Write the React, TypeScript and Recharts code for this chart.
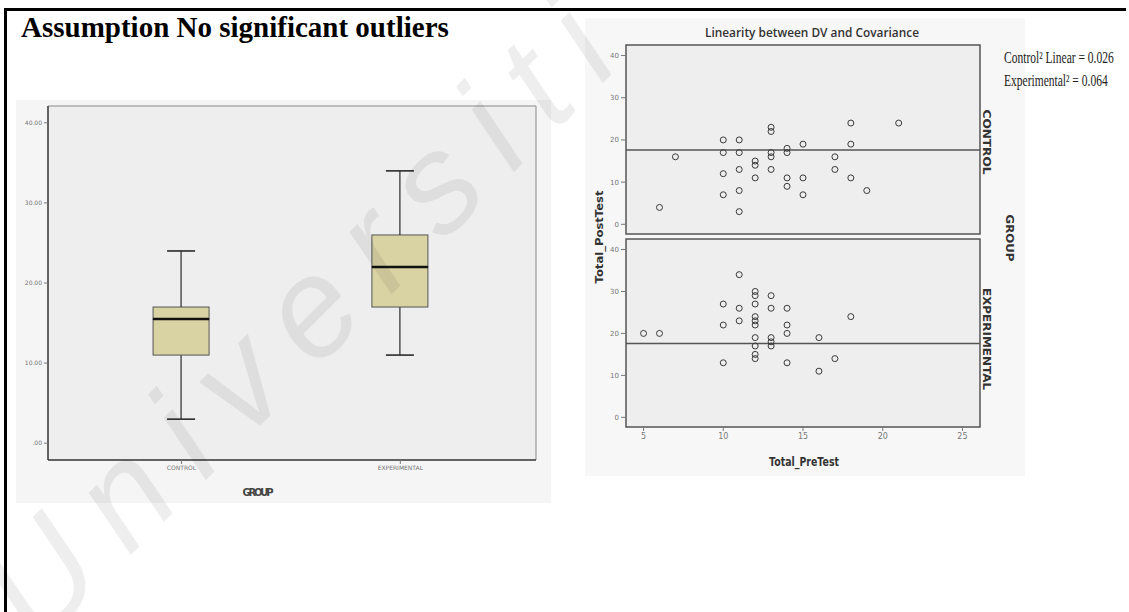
import {
  ComposedChart,
  Bar,
  XAxis,
  YAxis,
  CartesianGrid,
  ReferenceArea,
  ReferenceLine,
  ScatterChart,
  Scatter,
} from "recharts";

// box plot summary per group (Total_PostTest)
const groups = ["CONTROL", "EXPERIMENTAL"];
const groupMin = [3, 11];
const groupQ1 = [11, 17];
const groupMedian = [15.5, 22];
const groupQ3 = [17, 26];
const groupMax = [24, 34];
const boxTicks = [0, 10, 20, 30, 40];

// scatter: pre test vs post test
const controlPreTest = [6, 7, 10, 10, 10, 10, 11, 11, 11, 11, 11, 12, 12, 12, 13, 13, 13, 13, 13, 14, 14, 14, 14, 15, 15, 15, 17, 17, 18, 18, 18, 19, 21];
const controlPostTest = [4, 16, 20, 17, 12, 7, 20, 17, 13, 8, 3, 15, 14, 11, 23, 22, 17, 16, 13, 18, 17, 11, 9, 19, 11, 7, 16, 13, 24, 19, 11, 8, 24];
const experimentalPreTest = [5, 6, 10, 10, 10, 11, 11, 11, 12, 12, 12, 12, 12, 12, 12, 12, 12, 12, 13, 13, 13, 13, 13, 14, 14, 14, 14, 16, 16, 17, 18];
const experimentalPostTest = [20, 20, 27, 22, 13, 34, 26, 23, 30, 29, 27, 24, 23, 22, 19, 17, 15, 14, 29, 26, 19, 18, 17, 26, 22, 20, 13, 19, 11, 14, 24];
const preTestTicks = [5, 10, 15, 20, 25];
const postTestTicks = [0, 10, 20, 30, 40];
const controlFit = 17.6;
const experimentalFit = 17.6;
const controlR2 = "0.026";
const experimentalR2 = "0.064";

const INK = "#2b2b2b";
const BOX_FILL = "#d9d3a3";
const AXIS_FONT = "'DejaVu Sans', sans-serif";

// groups sit at positions 0 and 1 on a numeric axis so the frame can span the whole plot
const boxData = groups.map((group, i) => ({
  pos: i,
  group,
  base: groupMin[i],
  lowWhisker: groupQ1[i] - groupMin[i],
  lowBox: groupMedian[i] - groupQ1[i],
  highBox: groupQ3[i] - groupMedian[i],
  highWhisker: groupMax[i] - groupQ3[i],
}));

const LowCap = (p: any) => (
  <line x1={p.x + p.width * 0.25} x2={p.x + p.width * 0.75} y1={p.y} y2={p.y} stroke={INK} strokeWidth={1.6} />
);

const LowWhisker = (p: any) => (
  <line x1={p.x + p.width / 2} x2={p.x + p.width / 2} y1={p.y} y2={p.y + p.height} stroke={INK} strokeWidth={1.2} />
);

const LowBox = (p: any) => (
  <rect x={p.x} y={p.y} width={p.width} height={p.height} fill={BOX_FILL} stroke="#555" strokeWidth={1} />
);

const HighBox = (p: any) => (
  <g>
    <rect x={p.x} y={p.y} width={p.width} height={p.height} fill={BOX_FILL} stroke="#555" strokeWidth={1} />
    <line x1={p.x} x2={p.x + p.width} y1={p.y + p.height} y2={p.y + p.height} stroke="#111" strokeWidth={2.4} />
  </g>
);

const HighWhisker = (p: any) => (
  <g>
    <line x1={p.x + p.width / 2} x2={p.x + p.width / 2} y1={p.y} y2={p.y + p.height} stroke={INK} strokeWidth={1.2} />
    <line x1={p.x + p.width * 0.25} x2={p.x + p.width * 0.75} y1={p.y} y2={p.y} stroke={INK} strokeWidth={1.6} />
  </g>
);

const Ring = (p: any) => <circle cx={p.cx} cy={p.cy} r={3} fill="none" stroke="#3a3a3a" strokeWidth={1} />;

function BoxPlot() {
  return (
    <ComposedChart width={535} height={403} data={boxData} margin={{ top: 6, right: 15, bottom: 23, left: 6 }}>
      <CartesianGrid fill="#eeeeee" horizontal={false} vertical={false} />
      <XAxis
        type="number"
        dataKey="pos"
        domain={[-0.61, 1.62]}
        ticks={[0, 1]}
        allowDataOverflow
        tickFormatter={(v: number) => groups[v]}
        height={20}
        tickSize={4}
        axisLine={{ stroke: "#444", strokeWidth: 1.5 }}
        tickLine={{ stroke: "#777" }}
        tick={{ fontSize: 6, fill: "#777", fontFamily: AXIS_FONT }}
      />
      <YAxis
        type="number"
        domain={[-2.1, 42.1]}
        ticks={boxTicks}
        allowDataOverflow
        width={26}
        tickSize={4}
        tickFormatter={(v: number) => (v === 0 ? ".00" : v.toFixed(2))}
        axisLine={{ stroke: "#444", strokeWidth: 1.5 }}
        tickLine={{ stroke: "#777" }}
        tick={{ fontSize: 6, fill: "#777", fontFamily: AXIS_FONT }}
      />
      <ReferenceArea y1={-2.1} y2={42.1} fill="none" stroke="#8a8a8a" strokeWidth={1} ifOverflow="visible" />
      <Bar dataKey="base" stackId="b" barSize={56} shape={LowCap} isAnimationActive={false} />
      <Bar dataKey="lowWhisker" stackId="b" barSize={56} shape={LowWhisker} isAnimationActive={false} />
      <Bar dataKey="lowBox" stackId="b" barSize={56} shape={LowBox} isAnimationActive={false} />
      <Bar dataKey="highBox" stackId="b" barSize={56} shape={HighBox} isAnimationActive={false} />
      <Bar dataKey="highWhisker" stackId="b" barSize={56} shape={HighWhisker} isAnimationActive={false} />
    </ComposedChart>
  );
}

function Panel({ pre, post, fit, top, height, showX }: { pre: number[]; post: number[]; fit: number; top: number; height: number; showX: boolean }) {
  const data = pre.map((x, i) => ({ x, y: post[i] }));
  return (
    <div style={{ position: "absolute", left: 560, top }}>
      <ScatterChart width={430} height={height} margin={{ top: 5, right: 10, bottom: showX ? 27 : 6, left: 36 }}>
        <CartesianGrid fill="#eeeeee" horizontal={false} vertical={false} />
        <XAxis
          type="number"
          dataKey="x"
          domain={[3.9, 26.1]}
          ticks={preTestTicks}
          allowDataOverflow
          hide={!showX}
          height={30}
          tickSize={4}
          axisLine={false}
          tickLine={{ stroke: "#777" }}
          tick={{ fontSize: 8, fill: "#777", fontFamily: AXIS_FONT }}
        />
        <YAxis
          type="number"
          dataKey="y"
          domain={[-2.3, 42.5]}
          ticks={postTestTicks}
          allowDataOverflow
          width={30}
          tickSize={5}
          axisLine={false}
          tickLine={{ stroke: "#777" }}
          tick={{ fontSize: 7, fill: "#777", fontFamily: AXIS_FONT }}
        />
        <ReferenceArea y1={-2.3} y2={42.5} fill="none" stroke="#555" strokeWidth={1.5} ifOverflow="visible" />
        <ReferenceLine y={fit} stroke="#555" strokeWidth={1.5} />
        <Scatter data={data} shape={Ring} isAnimationActive={false} />
      </ScatterChart>
    </div>
  );
}

export default function App() {
  return (
    <div
      style={{
        position: "absolute",
        left: 0,
        top: 0,
        width: 1129,
        height: 612,
        background: "#fff",
        overflow: "hidden",
      }}
    >
      {/* page table border */}
      <div style={{ position: "absolute", left: 4, top: 8, width: 3, height: 604, background: "#000" }} />
      <div style={{ position: "absolute", left: 4, top: 8, width: 1122, height: 3, background: "#000" }} />

      <div
        style={{
          position: "absolute",
          left: 21,
          top: 13,
          fontFamily: "'Liberation Serif', serif",
          fontWeight: "bold",
          fontSize: 29,
          whiteSpace: "nowrap",
          lineHeight: 1,
        }}
      >
        Assumption No significant outliers
      </div>

      <div style={{ position: "absolute", left: 16, top: 100, width: 535, height: 403, background: "#f5f5f5" }}>
        <BoxPlot />
      </div>

      <div style={{ position: "absolute", left: 585, top: 18, width: 440, height: 458, background: "#f7f7f7" }} />
      <Panel pre={controlPreTest} post={controlPostTest} fit={controlFit} top={40} height={200} showX={false} />
      <Panel pre={experimentalPreTest} post={experimentalPostTest} fit={experimentalFit} top={234} height={250} showX />

      <svg width={1129} height={612} style={{ position: "absolute", left: 0, top: 0, pointerEvents: "none" }}>
        <text x={258} y={496} textAnchor="middle" fontFamily={AXIS_FONT} fontWeight="bold" fontSize={10} fill="#444" textLength={31}>
          GROUP
        </text>
        <text x={812} y={37} textAnchor="middle" fontFamily="'Open Sans', sans-serif" fontWeight={600} fontSize={13} fill="#333" textLength={214} lengthAdjust="spacingAndGlyphs">
          Linearity between DV and Covariance
        </text>
        <text transform="translate(603,237) rotate(-90)" textAnchor="middle" fontFamily={AXIS_FONT} fontWeight="bold" fontSize={11} fill="#333" textLength={93} lengthAdjust="spacingAndGlyphs">
          Total_PostTest
        </text>
        <text x={804} y={466} textAnchor="middle" fontFamily={AXIS_FONT} fontWeight="bold" fontSize={12} fill="#333" textLength={70} lengthAdjust="spacingAndGlyphs">
          Total_PreTest
        </text>
        <text transform="translate(983,142) rotate(90)" textAnchor="middle" fontFamily={AXIS_FONT} fontWeight="bold" fontSize={10} fill="#333" textLength={65} lengthAdjust="spacingAndGlyphs">
          CONTROL
        </text>
        <text transform="translate(983,339) rotate(90)" textAnchor="middle" fontFamily={AXIS_FONT} fontWeight="bold" fontSize={10} fill="#333" textLength={102} lengthAdjust="spacingAndGlyphs">
          EXPERIMENTAL
        </text>
        <text transform="translate(1006,238) rotate(90)" textAnchor="middle" fontFamily={AXIS_FONT} fontWeight="bold" fontSize={10} fill="#333" textLength={47} lengthAdjust="spacingAndGlyphs">
          GROUP
        </text>
        <text transform="translate(1004,63) scale(0.72,1)" fontFamily="'Liberation Serif', serif" fontSize={16} fill="#222">
          {`Control² Linear = ${controlR2}`}
        </text>
        <text transform="translate(1004,86) scale(0.72,1)" fontFamily="'Liberation Serif', serif" fontSize={16} fill="#222">
          {`Experimental² = ${experimentalR2}`}
        </text>

        {/* faint diagonal watermark */}
        <text
          transform="translate(38,648) rotate(-45)"
          fontFamily="'Liberation Sans', sans-serif"
          fontStyle="italic"
          fontSize={140}
          letterSpacing={28}
          fill="#000"
          fillOpacity={0.065}
        >
          Universiti Malaya
        </text>
      </svg>
    </div>
  );
}
